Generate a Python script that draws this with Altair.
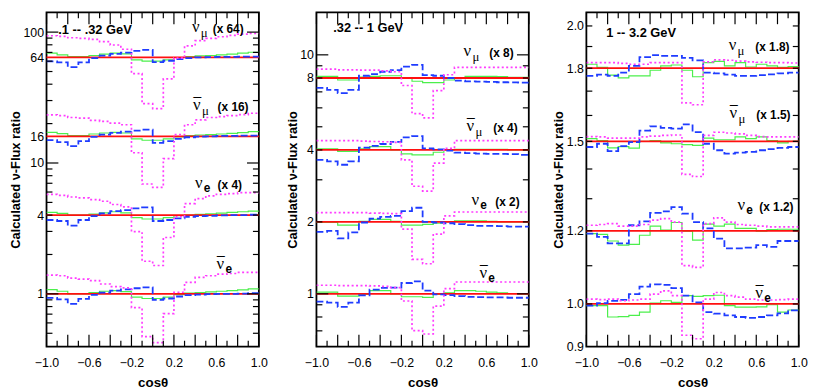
import altair as alt
import pandas as pd

# ---------------- data ----------------
BIN_EDGES = [-1.0, -0.9, -0.8, -0.7, -0.6, -0.5, -0.4, -0.3, -0.2, -0.1, 0.0,
             0.1, 0.2, 0.3, 0.4, 0.5, 0.6, 0.7, 0.8, 0.9, 1.0]
X_LABELS = [-1.0, -0.6, -0.2, 0.2, 0.6, 1.0]
X_TICKS_MAJOR = [-1.0, -0.8, -0.6, -0.4, -0.2, 0.0, 0.2, 0.4, 0.6, 0.8, 1.0]
X_TICKS_MINOR = [-0.9, -0.7, -0.5, -0.3, -0.1, 0.1, 0.3, 0.5, 0.7, 0.9]
GROUPS = ["numu", "numubar", "nue", "nuebar"]

# Panel 1: .1 -- .32 GeV
P1_FACTORS = [64, 16, 4, 1]
P1_NUMU_GREEN = [1.078, 1.047, 1.017, 1.017, 1.035, 1.06, 1.078, 1.066, 0.96, 0.938, 0.938, 0.96, 1.0, 1.017, 1.029, 1.035, 1.047, 1.06, 1.078, 1.097]
P1_NUMU_BLUE = [0.933, 0.917, 0.845, 0.917, 0.988, 1.035, 1.066, 1.09, 1.123, 1.143, 0.922, 0.944, 0.971, 0.988, 1.0, 1.006, 1.012, 1.012, 1.017, 1.017]
P1_NUMU_MAGENTA = [1.466, 1.449, 1.415, 1.399, 1.375, 1.321, 1.246, 1.156, 0.753, 0.444, 0.407, 0.686, 0.99, 1.225, 1.344, 1.399, 1.44, 1.474, 1.509, 1.526]
P1_NUMUBAR_GREEN = [1.072, 1.047, 1.012, 1.012, 1.041, 1.06, 1.072, 1.06, 0.955, 0.933, 0.933, 0.955, 0.988, 1.012, 1.023, 1.029, 1.041, 1.053, 1.066, 1.084]
P1_NUMUBAR_BLUE = [0.933, 0.901, 0.84, 0.917, 0.988, 1.029, 1.06, 1.084, 1.104, 1.123, 0.891, 0.917, 0.955, 0.983, 0.994, 1.0, 1.006, 1.006, 1.012, 1.012]
P1_NUMUBAR_MAGENTA = [1.458, 1.44, 1.391, 1.375, 1.321, 1.298, 1.261, 1.225, 0.748, 0.432, 0.407, 0.674, 1.029, 1.225, 1.336, 1.391, 1.415, 1.44, 1.466, 1.5]
P1_NUE_GREEN = [1.047, 1.029, 1.0, 1.0, 1.017, 1.041, 1.06, 1.041, 0.955, 0.933, 0.933, 0.955, 0.988, 1.0, 1.012, 1.023, 1.035, 1.047, 1.06, 1.072]
P1_NUE_BLUE = [0.917, 0.901, 0.831, 0.917, 0.983, 1.029, 1.072, 1.091, 1.123, 1.143, 0.901, 0.917, 0.944, 0.971, 0.983, 0.988, 0.994, 1.0, 1.0, 1.006]
P1_NUE_MAGENTA = [1.44, 1.415, 1.375, 1.352, 1.313, 1.276, 1.204, 1.156, 0.748, 0.444, 0.412, 0.674, 0.971, 1.225, 1.336, 1.4, 1.44, 1.458, 1.483, 1.483]
P1_NUEBAR_GREEN = [1.078, 1.047, 1.0, 1.0, 1.023, 1.047, 1.06, 1.041, 0.944, 0.922, 0.922, 0.944, 0.988, 1.012, 1.023, 1.035, 1.047, 1.06, 1.072, 1.091]
P1_NUEBAR_BLUE = [0.933, 0.906, 0.84, 0.917, 0.983, 1.023, 1.06, 1.084, 1.104, 1.123, 0.901, 0.922, 0.955, 0.977, 0.988, 0.994, 1.0, 1.0, 1.006, 1.012]
P1_NUEBAR_MAGENTA = [1.391, 1.375, 1.321, 1.298, 1.261, 1.19, 1.136, 1.11, 0.784, 0.471, 0.424, 0.707, 1.029, 1.225, 1.336, 1.375, 1.415, 1.432, 1.458, 1.458]

# Panel 2: .32 -- 1 GeV
P2_FACTORS = [8, 4, 2, 1]
P2_NUMU_GREEN = [1.016, 1.016, 0.981, 0.981, 1.01, 1.016, 1.022, 1.022, 1.0, 0.969, 0.956, 0.956, 0.981, 1.0, 1.016, 1.016, 1.016, 1.013, 1.006, 1.006]
P2_NUMU_BLUE = [0.909, 0.892, 0.864, 0.892, 1.022, 1.039, 1.062, 1.079, 1.117, 1.135, 1.029, 1.022, 1.0, 0.976, 0.969, 0.966, 0.963, 0.96, 0.958, 0.956]
P2_NUMU_MAGENTA = [1.089, 1.089, 1.082, 1.082, 1.079, 1.079, 1.072, 1.062, 0.93, 0.71, 0.681, 0.886, 1.032, 1.107, 1.107, 1.107, 1.107, 1.107, 1.107, 1.107]
P2_NUMUBAR_GREEN = [1.01, 1.01, 0.987, 0.987, 1.01, 1.032, 1.032, 1.0, 0.962, 0.954, 0.954, 0.978, 1.0, 1.006, 1.006, 1.006, 1.006, 1.006, 1.0, 1.0]
P2_NUMUBAR_BLUE = [0.909, 0.895, 0.867, 0.895, 1.022, 1.039, 1.059, 1.082, 1.128, 1.142, 1.016, 1.006, 0.994, 0.975, 0.969, 0.966, 0.963, 0.963, 0.96, 0.954]
P2_NUMUBAR_MAGENTA = [1.093, 1.093, 1.093, 1.093, 1.089, 1.085, 1.082, 1.075, 0.909, 0.705, 0.673, 0.881, 1.016, 1.093, 1.093, 1.093, 1.093, 1.093, 1.093, 1.093]
P2_NUE_GREEN = [0.994, 0.994, 0.969, 0.969, 1.006, 1.025, 1.025, 1.006, 0.969, 0.969, 0.976, 0.987, 1.0, 1.01, 1.01, 1.01, 1.006, 1.0, 1.0, 1.0]
P2_NUE_BLUE = [0.909, 0.918, 0.853, 0.903, 0.994, 1.032, 1.049, 1.059, 1.11, 1.146, 1.0, 0.994, 0.987, 0.978, 0.969, 0.963, 0.963, 0.96, 0.956, 0.956]
P2_NUE_MAGENTA = [1.093, 1.093, 1.093, 1.093, 1.093, 1.089, 1.085, 1.082, 0.933, 0.697, 0.668, 0.889, 1.059, 1.1, 1.1, 1.1, 1.1, 1.1, 1.1, 1.1]
P2_NUEBAR_GREEN = [1.016, 1.016, 0.978, 0.978, 0.994, 1.032, 1.032, 1.0, 0.972, 0.972, 0.966, 0.994, 1.01, 1.032, 1.032, 1.025, 1.016, 1.01, 1.003, 1.0]
P2_NUEBAR_BLUE = [0.927, 0.918, 0.881, 0.918, 0.985, 1.042, 1.059, 1.062, 1.11, 1.128, 1.032, 0.994, 0.987, 0.978, 0.972, 0.969, 0.966, 0.966, 0.963, 0.963]
P2_NUEBAR_MAGENTA = [1.086, 1.086, 1.082, 1.082, 1.082, 1.079, 1.075, 1.062, 0.933, 0.701, 0.679, 0.889, 1.052, 1.121, 1.121, 1.121, 1.121, 1.121, 1.121, 1.121]

# Panel 3: 1 -- 3.2 GeV
P3_FACTORS = [1.8, 1.5, 1.2, 1.0]
P3_NUMU_GREEN = [1.01, 1.002, 0.983, 0.976, 0.981, 0.981, 0.995, 1.006, 1.008, 0.995, 0.979, 1.014, 1.017, 1.006, 1.014, 1.003, 1.01, 1.006, 1.002, 1.004]
P3_NUMU_BLUE = [0.981, 0.984, 0.981, 0.989, 1.006, 1.028, 1.033, 1.031, 1.031, 1.026, 1.02, 0.989, 0.987, 0.984, 0.981, 0.981, 0.983, 0.985, 0.987, 0.989]
P3_NUMU_MAGENTA = [1.014, 1.014, 1.014, 1.012, 1.01, 1.01, 1.014, 1.014, 1.014, 0.917, 0.913, 1.016, 1.021, 1.02, 1.018, 1.016, 1.015, 1.014, 1.014, 1.013]
P3_NUMUBAR_GREEN = [1.007, 1.002, 0.984, 0.987, 0.983, 1.0, 1.002, 0.996, 0.994, 0.992, 0.99, 1.008, 1.004, 1.004, 1.011, 1.007, 1.011, 1.002, 0.996, 1.0]
P3_NUMUBAR_BLUE = [0.986, 0.994, 0.976, 0.988, 0.998, 1.027, 1.038, 1.034, 1.032, 1.043, 1.023, 0.994, 0.978, 0.97, 0.972, 0.974, 0.978, 0.981, 0.984, 0.986]
P3_NUMUBAR_MAGENTA = [1.012, 1.011, 1.008, 1.008, 1.008, 1.011, 1.013, 1.015, 1.016, 0.921, 0.916, 1.015, 1.023, 1.021, 1.019, 1.015, 1.012, 1.011, 1.011, 1.011]
P3_NUE_GREEN = [0.993, 0.991, 0.975, 0.965, 0.967, 0.989, 1.012, 1.002, 1.021, 0.999, 0.977, 1.017, 1.012, 1.017, 1.006, 1.006, 0.999, 1.003, 1.004, 1.004]
P3_NUE_BLUE = [0.993, 0.985, 0.969, 0.969, 1.014, 1.024, 1.046, 1.05, 1.061, 1.044, 1.022, 1.006, 0.981, 0.957, 0.957, 0.959, 0.965, 0.961, 0.975, 0.975]
P3_NUE_MAGENTA = [1.014, 1.016, 1.018, 1.012, 1.012, 1.016, 1.027, 1.031, 1.022, 0.917, 0.913, 1.018, 1.033, 1.022, 1.016, 1.014, 1.012, 1.01, 1.01, 1.01]
P3_NUEBAR_GREEN = [0.996, 0.996, 0.968, 0.969, 0.972, 0.98, 1.002, 1.008, 1.004, 1.021, 1.019, 1.021, 1.022, 0.996, 0.992, 0.992, 0.993, 0.998, 0.98, 0.985]
P3_NUEBAR_BLUE = [0.996, 1.002, 1.008, 1.01, 1.025, 1.044, 1.05, 1.049, 1.04, 1.021, 1.004, 0.98, 0.976, 0.972, 0.968, 0.966, 0.968, 0.972, 0.977, 0.984]
P3_NUEBAR_MAGENTA = [1.012, 1.011, 1.012, 1.008, 1.01, 1.012, 1.025, 1.033, 1.021, 0.925, 0.917, 1.012, 1.029, 1.021, 1.017, 1.012, 1.01, 1.01, 1.011, 1.012]

# axis values
P1_YDOMAIN = [0.395, 141.6]
P1_YLABELS = [1, 4, 10, 16, 64, 100]
P1_YMAJOR = [1, 10, 100]
P1_YMINOR = [0.5, 0.6, 0.7, 0.8, 0.9, 2, 3, 4, 5, 6, 7, 8, 9, 20, 30, 40, 50, 60, 70, 80, 90]
P2_YDOMAIN = [0.601, 15.06]
P2_YLABELS = [1, 2, 4, 8, 10]
P2_YMAJOR = [1, 10]
P2_YMINOR = [0.7, 0.8, 0.9, 2, 3, 4, 5, 6, 7, 8, 9]
P3_YDOMAIN = [0.899, 2.069]
P3_YLABELS = [0.9, 1.0, 1.2, 1.5, 1.8, 2.0]
P3_YMAJOR = []
P3_YMINOR = [1.0, 1.1, 1.2, 1.3, 1.4, 1.5, 1.6, 1.7, 1.8, 1.9, 2.0]

# annotation texts
ENERGY_TEXT = [".1 -- .32 GeV", ".32 -- 1 GeV", "1 -- 3.2 GeV"]
ENERGY_X = [-0.889, -0.842, -0.814]
ENERGY_Y = [96.6, 12.45, 1.945]
LABEL_SUB = ["μ", "μ", "e", "e"]
LABEL_BAR = [False, True, False, True]
P1_SUFFIX = ["(x 64)", "(x 16)", "(x 4)", ""]
P2_SUFFIX = ["(x 8)", "(x 4)", "(x 2)", ""]
P3_SUFFIX = ["(x 1.8)", "(x 1.5)", "(x 1.2)", ""]
P1_LABEL_X = [0.370, 0.380, 0.398, 0.602]
P1_SUFFIX_X = [0.565, 0.611, 0.611, 0.0]
P1_LABEL_Y = [100, 25.3, 6.42, 1.545]
P2_LABEL_X = [0.386, 0.414, 0.460, 0.535]
P2_SUFFIX_X = [0.628, 0.665, 0.684, 0.0]
P2_LABEL_Y = [9.9, 4.81, 2.355, 1.165]
P3_LABEL_X = [0.340, 0.349, 0.423, 0.591]
P3_SUFFIX_X = [0.591, 0.600, 0.628, 0.0]
P3_LABEL_Y = [1.884, 1.590, 1.264, 1.016]

# ---------------- style ----------------
W, H, SPACING = 215, 338.5, 58.3
FONT = "Liberation Sans"
SERIF = "Liberation Serif"
C_GREEN, C_BLUE, C_MAGENTA, C_RED = "#4cef4c", "#1f3cff", "#ff3cff", "#ff1010"
LONG, SHORT = 12, 6


def step_frame(factors, arrays):
    rows = []
    for g, f, arr in zip(GROUPS, factors, arrays):
        for i, r in enumerate(arr):
            rows.append({"group": g, "x": BIN_EDGES[i], "y": f * r})
        rows.append({"group": g, "x": BIN_EDGES[-1], "y": f * arr[-1]})
    return pd.DataFrame(rows)


def panel(idx, factors, green, blue, magenta, ydomain, ylabels, yfmt, ymajor, yminor,
          lab_x, suf_x, lab_y, suffix):
    xs = alt.Scale(domain=[-1, 1], nice=False, zero=False)
    ys = alt.Scale(type="log", domain=ydomain, nice=False)

    xaxis = alt.Axis(values=X_LABELS, format=".1f", ticks=False, domain=False, grid=False,
                     labelFlush=False, labelOverlap=False, labelPadding=10.5, labelFontSize=12.5,
                     labelColor="black", labelFont=FONT, title="cosθ", titleFont=FONT,
                     titleFontSize=13.5, titleFontWeight="bold", titlePadding=6, titleColor="black")
    yaxis = alt.Axis(values=ylabels, format=yfmt, ticks=False, domain=False, grid=False,
                     labelFlush=False, labelOverlap=False, labelPadding=3, labelFontSize=12.5,
                     labelColor="black", labelFont=FONT, title="Calculated ν-Flux ratio",
                     titleFont=FONT, titleFontSize=13, titleFontWeight="bold", titlePadding=0.5,
                     titleColor="black")

    def X(field="x"):
        return alt.X(f"{field}:Q", scale=xs, axis=xaxis)

    def Y(field="y"):
        return alt.Y(f"{field}:Q", scale=ys, axis=yaxis)

    layers = []
    layers.append(alt.Chart(step_frame(factors, green)).mark_line(
        interpolate="step-after", color=C_GREEN, strokeWidth=1.2, clip=True
    ).encode(x=X(), y=Y(), detail="group:N"))
    layers.append(alt.Chart(pd.DataFrame({"y": factors})).mark_rule(
        color=C_RED, strokeWidth=1.8
    ).encode(y=Y(), x=alt.value(0), x2=alt.value(W)))
    layers.append(alt.Chart(step_frame(factors, blue)).mark_line(
        interpolate="step-after", color=C_BLUE, strokeWidth=1.8, strokeDash=[7, 3], clip=True
    ).encode(x=X(), y=Y(), detail="group:N"))
    layers.append(alt.Chart(step_frame(factors, magenta)).mark_line(
        interpolate="step-after", color=C_MAGENTA, strokeWidth=1.7, strokeDash=[2, 2.5], clip=True
    ).encode(x=X(), y=Y(), detail="group:N"))

    # inward ticks
    tick = dict(color="black", strokeWidth=1.2)
    for vals, ln in ((ymajor, LONG), (yminor, SHORT)):
        if vals:
            d = pd.DataFrame({"y": vals})
            layers.append(alt.Chart(d).mark_rule(**tick).encode(y=Y(), x=alt.value(0), x2=alt.value(ln)))
            layers.append(alt.Chart(d).mark_rule(**tick).encode(y=Y(), x=alt.value(W - ln), x2=alt.value(W)))
    for vals, ln in ((X_TICKS_MAJOR, LONG), (X_TICKS_MINOR, SHORT)):
        d = pd.DataFrame({"x": vals})
        layers.append(alt.Chart(d).mark_rule(**tick).encode(x=X(), y=alt.value(H - ln), y2=alt.value(H)))
        layers.append(alt.Chart(d).mark_rule(**tick).encode(x=X(), y=alt.value(0), y2=alt.value(ln)))

    # labels
    lab = pd.DataFrame({"xnu": lab_x, "xs": suf_x, "y": lab_y, "sub": LABEL_SUB,
                        "suffix": suffix, "bar": LABEL_BAR})
    layers.append(alt.Chart(lab).mark_text(
        text="ν", font=SERIF, fontSize=17, align="left", baseline="alphabetic", color="black"
    ).encode(x=X("xnu"), y=Y()))
    layers.append(alt.Chart(lab[lab["sub"] == "μ"]).mark_text(
        font=SERIF, fontSize=13, align="left", baseline="alphabetic", dx=9, dy=5, color="black"
    ).encode(x=X("xnu"), y=Y(), text="sub:N"))
    layers.append(alt.Chart(lab[lab["sub"] == "e"]).mark_text(
        font=FONT, fontWeight="bold", fontSize=12, align="left", baseline="alphabetic", dx=9, dy=4,
        color="black"
    ).encode(x=X("xnu"), y=Y(), text="sub:N"))
    layers.append(alt.Chart(lab[lab["suffix"] != ""]).mark_text(
        font=FONT, fontWeight="bold", fontSize=12, align="left", baseline="alphabetic", dy=1,
        color="black"
    ).encode(x=X("xs"), y=Y(), text="suffix:N"))
    layers.append(alt.Chart(lab[lab["bar"]]).mark_text(
        text="_", font=FONT, fontSize=14, align="left", baseline="alphabetic", dx=0.5, dy=-15,
        color="black"
    ).encode(x=X("xnu"), y=Y()))
    en = pd.DataFrame({"x": [ENERGY_X[idx]], "y": [ENERGY_Y[idx]], "t": [ENERGY_TEXT[idx]]})
    layers.append(alt.Chart(en).mark_text(
        font=FONT, fontWeight="bold", fontSize=13, align="left", baseline="alphabetic", color="black"
    ).encode(x=X(), y=Y(), text="t:N"))

    return alt.layer(*layers).properties(width=W, height=H)


p1 = panel(0, P1_FACTORS,
           [P1_NUMU_GREEN, P1_NUMUBAR_GREEN, P1_NUE_GREEN, P1_NUEBAR_GREEN],
           [P1_NUMU_BLUE, P1_NUMUBAR_BLUE, P1_NUE_BLUE, P1_NUEBAR_BLUE],
           [P1_NUMU_MAGENTA, P1_NUMUBAR_MAGENTA, P1_NUE_MAGENTA, P1_NUEBAR_MAGENTA],
           P1_YDOMAIN, P1_YLABELS, "d", P1_YMAJOR, P1_YMINOR,
           P1_LABEL_X, P1_SUFFIX_X, P1_LABEL_Y, P1_SUFFIX)
p2 = panel(1, P2_FACTORS,
           [P2_NUMU_GREEN, P2_NUMUBAR_GREEN, P2_NUE_GREEN, P2_NUEBAR_GREEN],
           [P2_NUMU_BLUE, P2_NUMUBAR_BLUE, P2_NUE_BLUE, P2_NUEBAR_BLUE],
           [P2_NUMU_MAGENTA, P2_NUMUBAR_MAGENTA, P2_NUE_MAGENTA, P2_NUEBAR_MAGENTA],
           P2_YDOMAIN, P2_YLABELS, "d", P2_YMAJOR, P2_YMINOR,
           P2_LABEL_X, P2_SUFFIX_X, P2_LABEL_Y, P2_SUFFIX)
p3 = panel(2, P3_FACTORS,
           [P3_NUMU_GREEN, P3_NUMUBAR_GREEN, P3_NUE_GREEN, P3_NUEBAR_GREEN],
           [P3_NUMU_BLUE, P3_NUMUBAR_BLUE, P3_NUE_BLUE, P3_NUEBAR_BLUE],
           [P3_NUMU_MAGENTA, P3_NUMUBAR_MAGENTA, P3_NUE_MAGENTA, P3_NUEBAR_MAGENTA],
           P3_YDOMAIN, P3_YLABELS, ".1f", P3_YMAJOR, P3_YMINOR,
           P3_LABEL_X, P3_SUFFIX_X, P3_LABEL_Y, P3_SUFFIX)

chart = alt.hconcat(p1, p2, p3, spacing=SPACING, bounds="flush").properties(
    padding={"left": 0, "top": 0, "right": 0, "bottom": 0}
).configure(font=FONT).configure_view(stroke="black", strokeWidth=1.8)

chart.save("out.html", embed_options={"renderer": "svg", "actions": False})
